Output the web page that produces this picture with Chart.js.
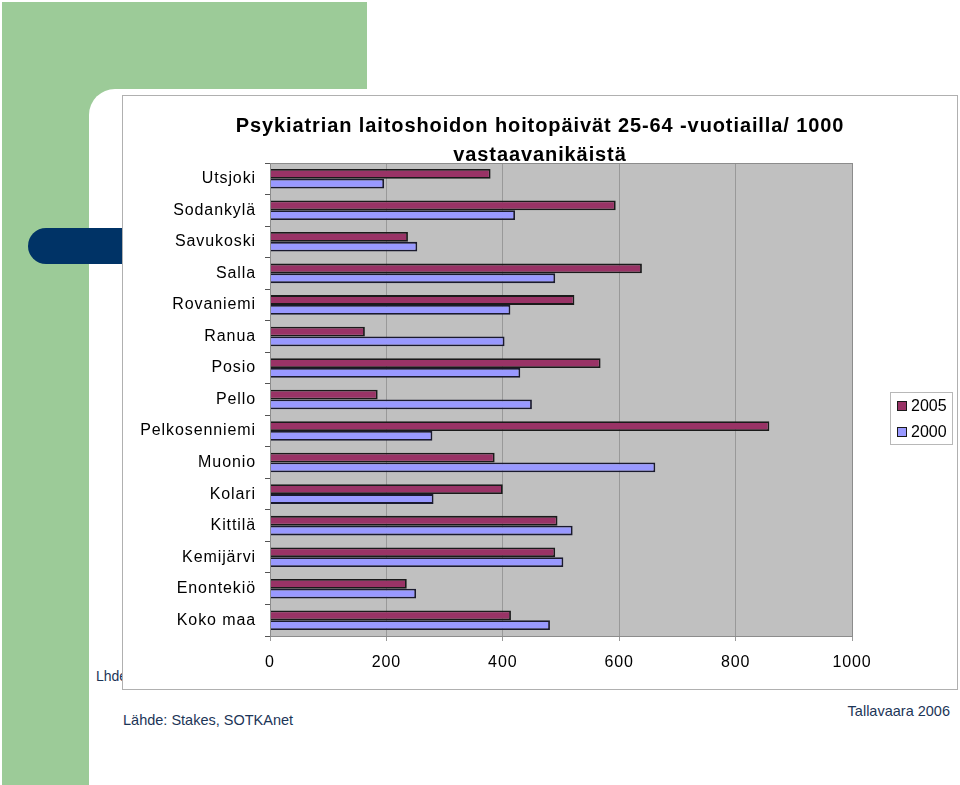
<!DOCTYPE html>
<html>
<head>
<meta charset="utf-8">
<script src="https://cdn.jsdelivr.net/npm/chart.js@4.4.1/dist/chart.umd.min.js"></script>
<style>
  body { margin: 0; width: 960px; height: 785px; background: #fff; position: relative; overflow: hidden; font-family: "Liberation Sans", Arial, sans-serif; }
  .green { position: absolute; left: 2px; top: 2px; width: 365px; height: 783px; background: #9ccb98; }
  .white { position: absolute; left: 89px; top: 89px; width: 871px; height: 696px; background: #fff; border-top-left-radius: 26px; }
  .pill { position: absolute; left: 28px; top: 228px; width: 120px; height: 36px; background: #003366; border-radius: 18px 0 0 18px; }
  .lhde { position: absolute; left: 96px; top: 668px; font-size: 14px; color: #1c3557; }
  .panel { position: absolute; left: 122px; top: 95px; width: 836px; height: 595px; background: #fff; border: 1px solid #b0b0b0; box-sizing: border-box; }
  #chart { position: absolute; left: 122px; top: 95px; }
  .src { position: absolute; left: 123px; top: 712px; font-size: 14.5px; color: #1c3557; }
  .author { position: absolute; right: 10px; top: 703px; font-size: 14.5px; color: #1c3557; }
</style>
</head>
<body>
<div class="green"></div>
<div class="white"></div>
<div class="pill"></div>
<div class="lhde">Lhde: Stakes, SOTKAnet</div>
<div class="panel"></div>
<canvas id="chart" width="836" height="595"></canvas>
<div class="src">Lähde: Stakes, SOTKAnet</div>
<div class="author">Tallavaara 2006</div>

<script>
// Chart data
const municipalities = ['Utsjoki', 'Sodankylä', 'Savukoski', 'Salla', 'Rovaniemi', 'Ranua', 'Posio',
    'Pello', 'Pelkosenniemi', 'Muonio', 'Kolari', 'Kittilä', 'Kemijärvi', 'Enontekiö', 'Koko maa'];
const days2005 = [379, 594, 237, 639, 523, 163, 568, 185, 858, 386, 400, 494, 490, 235, 414];
const days2000 = [196, 421, 253, 490, 413, 403, 430, 450, 279, 662, 281, 520, 504, 251, 481];
const xTicks = [0, 200, 400, 600, 800, 1000];

const FONT = '"Liberation Sans", Arial, sans-serif';

// Grey plot area with border, plus the slightly spaced lettering of the original
const plotBackground = {
    id: 'plotBackground',
    beforeDraw(chart) {
        const { ctx, chartArea: a } = chart;
        ctx.save();
        ctx.fillStyle = '#c0c0c0';
        ctx.fillRect(a.left, a.top, a.right - a.left, a.bottom - a.top);
        ctx.restore();
        ctx.letterSpacing = '0.9px';
    },
    afterDraw(chart) {
        const { ctx, chartArea: a } = chart;
        ctx.save();
        ctx.strokeStyle = '#8c8c8c';
        ctx.lineWidth = 1;
        ctx.strokeRect(a.left + 0.5, a.top + 0.5, a.right - a.left, a.bottom - a.top);
        ctx.restore();
    }
};

// Boxed legend at the right
const boxLegend = {
    id: 'boxLegend',
    afterDraw(chart) {
        const ctx = chart.ctx;
        const x = 768, y = 297, w = 62, h = 52;
        ctx.save();
        ctx.letterSpacing = '0px';
        ctx.strokeStyle = '#b8b8b8';
        ctx.lineWidth = 1;
        ctx.strokeRect(x + 0.5, y + 0.5, w, h);
        ctx.font = '16px ' + FONT;
        ctx.textBaseline = 'middle';
        chart.data.datasets.forEach((ds, i) => {
            const cy = y + 14 + i * 26;
            ctx.fillStyle = ds.backgroundColor;
            ctx.fillRect(x + 7, cy - 5, 10, 10);
            ctx.strokeStyle = '#1a1a1a';
            ctx.strokeRect(x + 7.5, cy - 4.5, 9, 9);
            ctx.fillStyle = '#000';
            ctx.fillText(ds.label, x + 21, cy + 1);
        });
        ctx.restore();
    }
};

const ctx = document.getElementById('chart').getContext('2d');
new Chart(ctx, {
    type: 'bar',
    data: {
        labels: municipalities,
        datasets: [
            {
                label: '2005',
                data: days2005,
                backgroundColor: '#993366',
                borderColor: '#1a1a1a',
                borderWidth: 1.8,
                categoryPercentage: 0.62,
                barPercentage: 1.0
            },
            {
                label: '2000',
                data: days2000,
                backgroundColor: '#9999ff',
                borderColor: '#1a1a2e',
                borderWidth: 1.8,
                categoryPercentage: 0.62,
                barPercentage: 1.0
            }
        ]
    },
    options: {
        indexAxis: 'y',
        responsive: false,
        animation: false,
        devicePixelRatio: 1,
        layout: {
            padding: { left: 0, right: 0, top: 0, bottom: 14 }
        },
        plugins: {
            legend: { display: false },
            tooltip: { enabled: false },
            title: {
                display: true,
                text: ['Psykiatrian laitoshoidon hoitopäivät 25-64 -vuotiailla/ 1000', 'vastaavanikäistä'],
                color: '#000',
                font: { family: FONT, size: 20, weight: 'bold', lineHeight: 1.45 },
                padding: { top: 16.5, bottom: -6.5 }
            }
        },
        scales: {
            x: {
                min: 0,
                max: 1000,
                afterBuildTicks: (scale) => {
                    scale.ticks = xTicks.map(v => ({ value: v }));
                },
                afterFit: (scale) => { scale.height = 40; },
                ticks: {
                    color: '#000',
                    font: { family: FONT, size: 16 },
                    padding: 12,
                    callback: (value) => String(value)
                },
                grid: {
                    color: '#999',
                    lineWidth: 1,
                    tickLength: 5
                },
                border: { display: false }
            },
            y: {
                afterFit: (scale) => { scale.width = 148; },
                ticks: {
                    color: '#000',
                    font: { family: FONT, size: 16 },
                    padding: 9
                },
                grid: {
                    drawOnChartArea: false,
                    color: '#555',
                    tickLength: 5
                },
                border: { color: '#444', width: 1 }
            },
            // empty right-hand axis keeps room for the legend
            yRight: {
                type: 'category',
                position: 'right',
                afterFit: (scale) => { scale.width = 106; },
                ticks: { display: false },
                grid: { display: false },
                border: { display: false }
            }
        }
    },
    plugins: [plotBackground, boxLegend]
});
</script>
</body>
</html>
